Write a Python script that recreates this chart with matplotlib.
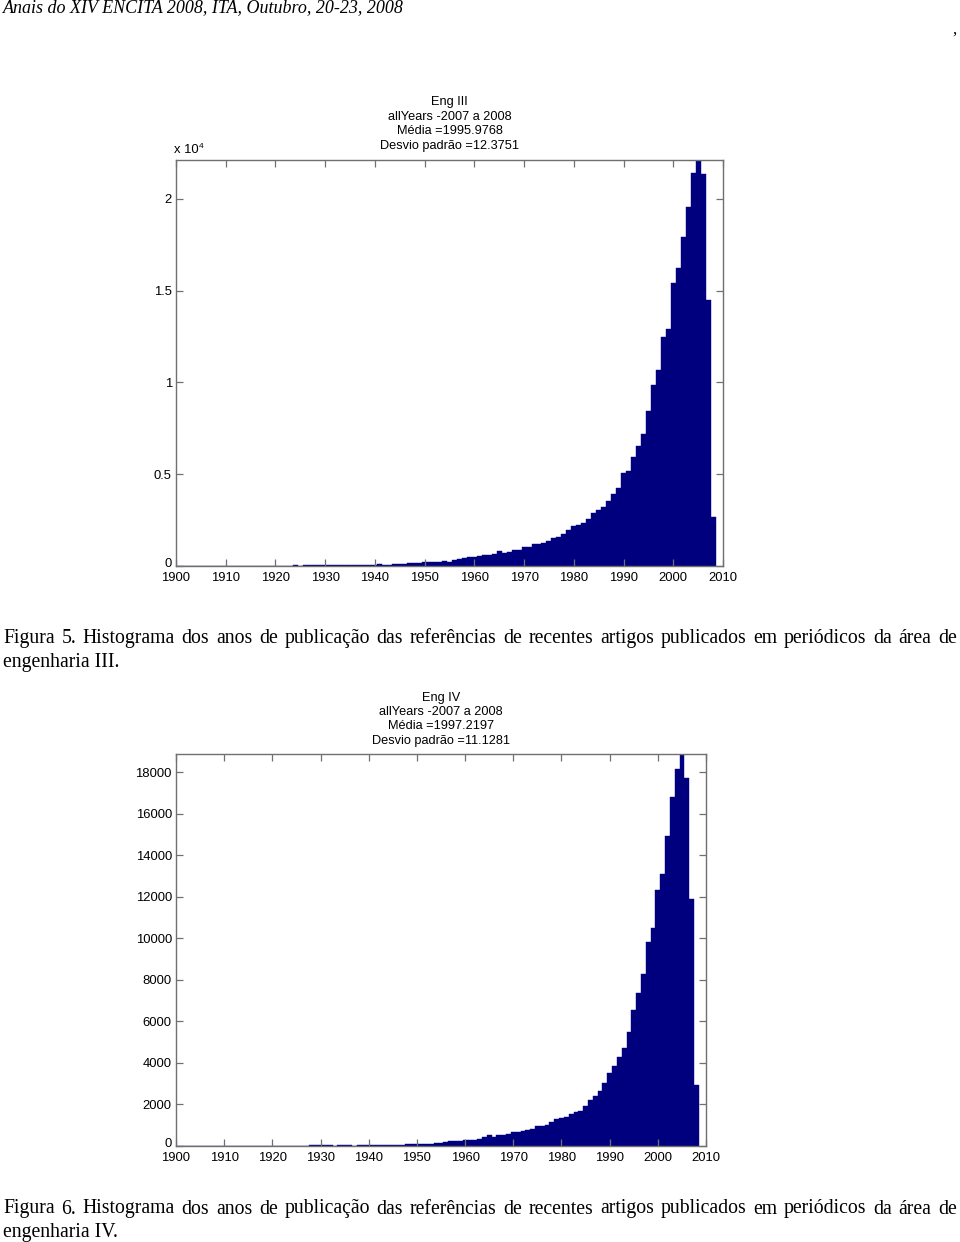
import matplotlib
matplotlib.use('Agg')
import matplotlib.pyplot as plt
import numpy as np

# ---------------- data ----------------
years = list(range(1900, 2009))

eng3_counts = [0]*23 + [
    10, 40, 10,                                   # 1923-1925
    30, 35, 30, 40, 35, 30, 35, 40, 30, 35, 40, 45,  # 1926-1937
    80, 50, 60, 90, 60, 70, 100, 120, 130, 145, 150, 160,  # 1938-1949
    200, 230, 240, 240, 250, 230, 330, 400, 420, 500,      # 1950-1959
    510, 570, 580, 600, 650, 840, 690, 780, 870, 880,      # 1960-1969
    1050, 1060, 1180, 1190, 1240, 1360, 1510, 1600, 1730, 1960,  # 1970-1979
    2180, 2260, 2360, 2540, 2870, 3050, 3230, 3540, 3920, 4230,  # 1980-1989
    5050, 5200, 5960, 6540, 7190, 8450, 9860, 10680, 12460, 12920,  # 1990-1999
    15400, 16220, 17910, 19580, 21430, 22125, 21360, 14500, 2690,  # 2000-2008
]

eng4_counts = [0]*27 + [
    20, 30, 40,                                   # 1927-1929
    50, 40, 40, 20, 40, 40, 40, 20, 40, 30,       # 1930-1939
    50, 50, 50, 50, 60, 60, 70, 70, 80, 90,       # 1940-1949
    100, 110, 110, 120, 150, 140, 170, 230, 220, 240,  # 1950-1959
    280, 290, 300, 340, 410, 530, 450, 520, 530, 580,  # 1960-1969
    650, 660, 720, 770, 830, 970, 980, 1010, 1170, 1290,  # 1970-1979
    1350, 1410, 1520, 1640, 1700, 1930, 2200, 2420, 2660, 3020,  # 1980-1989
    3500, 3850, 4300, 4700, 5500, 6550, 7380, 8260, 9830, 10510,  # 1990-1999
    12320, 13090, 14940, 16810, 18140, 18870, 17700, 11890, 2940,  # 2000-2008
]

xticks = list(range(1900, 2011, 10))
eng3_yticks = [0, 5000, 10000, 15000, 20000]
eng3_yticklabels = ['0', '0.5', '1', '1.5', '2']
eng4_yticks = list(range(0, 18001, 2000))
eng4_yticklabels = [str(v) for v in eng4_yticks]

header = "Anais do XIV ENCITA 2008, ITA, Outubro, 20-23, 2008"
title3 = ["Eng III", "allYears -2007 a 2008", "Média =1995.9768", "Desvio padrão =12.3751"]
title4 = ["Eng IV", "allYears -2007 a 2008", "Média =1997.2197", "Desvio padrão =11.1281"]
cap5_line1 = "Figura 5. Histograma dos anos de publicação das referências de recentes artigos publicados em periódicos da área de"
cap5_line2 = "engenharia III."
cap6_line1 = "Figura 6. Histograma dos anos de publicação das referências de recentes artigos publicados em periódicos da área de"
cap6_line2 = "engenharia IV."

# ---------------- layout ----------------
W, H = 960, 1242
fig = plt.figure(figsize=(W/100, H/100), dpi=100)
fig.patch.set_facecolor('white')

def fx(x):
    return x / W

def fy(y):
    return 1 - y / H

SERIF = 'Liberation Serif'
SANS = 'Liberation Sans'
BAR = '#00007f'
FRAME = '#707070'
TICKFS = 9.4
CAPFS = 14.2

fig.text(fx(3), fy(8), header, family=SERIF, style='italic', fontsize=13,
         ha='left', va='center')
fig.text(fx(952), fy(30), ',', family=SERIF, fontsize=12, ha='left', va='center')

renderer = fig.canvas.get_renderer()

def justified(line, x0, x1, y, **kw):
    words = line.split(' ')
    ts = [fig.text(0, fy(y), w, ha='left', va='center', **kw) for w in words]
    widths = [t.get_window_extent(renderer).width for t in ts]
    gap = (x1 - x0 - sum(widths)) / (len(words) - 1)
    x = x0
    for t, w in zip(ts, widths):
        t.set_x(fx(x))
        x += w + gap

def make_axes(box, counts, yticks, yticklabels, ymax, title, title_ys):
    left, top, right, bottom = box
    ax = fig.add_axes([fx(left), fy(bottom), (right-left)/W, (bottom-top)/H])
    ax.bar(years, counts, width=1.0, color=BAR, edgecolor=BAR, linewidth=0.3,
           align='center')
    ax.set_xlim(1900, 2010)
    ax.set_ylim(0, ymax)
    ax.set_xticks(xticks)
    ax.set_xticklabels([str(v) for v in xticks])
    ax.set_yticks(yticks)
    # the zero label is drawn separately, nudged up a little as in the reference
    ax.set_yticklabels([''] + list(yticklabels[1:]))
    ax.annotate(yticklabels[0], xy=(0, 0), xycoords=('axes fraction', 'data'),
                xytext=(-3, 1.5), textcoords='offset points', ha='right',
                va='center', family=SANS, fontsize=TICKFS)
    for s in ax.spines.values():
        s.set_color(FRAME)
        s.set_linewidth(1.0)
    ax.tick_params(direction='in', length=5, width=0.9, color=FRAME,
                   top=True, right=True, labelsize=TICKFS, labelcolor='black')
    ax.tick_params(axis='x', pad=4.2)
    ax.tick_params(axis='y', pad=3)
    for lab in ax.get_xticklabels() + ax.get_yticklabels():
        lab.set_family(SANS)
    cx = (left + right) / 2
    for line, yy in zip(title, title_ys):
        fig.text(fx(cx), fy(yy), line, family=SANS, fontsize=9.2,
                 ha='center', va='center')
    return ax

ax1 = make_axes((176, 160, 723, 566), eng3_counts, eng3_yticks, eng3_yticklabels,
                max(eng3_counts), title3, [102, 117, 131, 146])
fig.text(fx(174), fy(150), 'x 10', family=SANS, fontsize=TICKFS, ha='left', va='center')
fig.text(fx(199), fy(146), '4', family=SANS, fontsize=6, ha='left', va='center')

ax2 = make_axes((176, 754, 706, 1146), eng4_counts, eng4_yticks, eng4_yticklabels,
                max(eng4_counts), title4, [698, 712, 726, 741])

justified(cap5_line1, 3, 957, 639, family=SERIF, fontsize=CAPFS)
fig.text(fx(3), fy(662), cap5_line2, family=SERIF, fontsize=CAPFS, ha='left', va='center')
justified(cap6_line1, 3, 957, 1209, family=SERIF, fontsize=CAPFS)
fig.text(fx(3), fy(1232), cap6_line2, family=SERIF, fontsize=CAPFS, ha='left', va='center')

fig.savefig('out.png', dpi=100, facecolor='white')
